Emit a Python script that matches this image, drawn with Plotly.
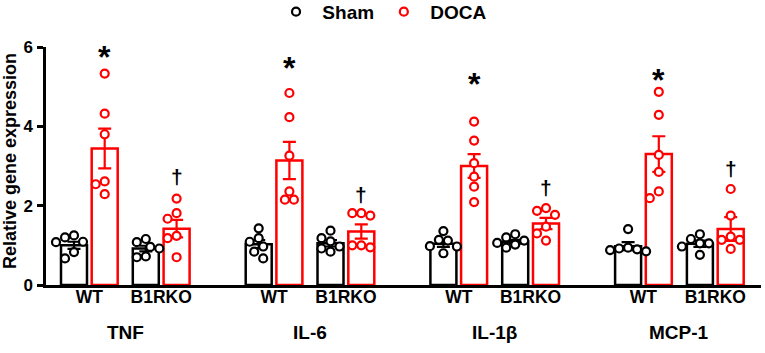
import plotly.graph_objects as go

# ---------------- data ----------------
genes = ["TNF", "IL-6", "IL-1β", "MCP-1"]
genotypes = ["WT", "B1RKO"]

# bar means (Sham WT, DOCA WT, Sham B1RKO, DOCA B1RKO) per gene
sham_wt_mean = [1.00, 1.03, 1.04, 0.98]
doca_wt_mean = [3.44, 3.14, 3.00, 3.30]
sham_ko_mean = [0.92, 1.05, 1.09, 1.04]
doca_ko_mean = [1.42, 1.35, 1.55, 1.41]

sham_wt_sem = [0.09, 0.10, 0.08, 0.10]
doca_wt_sem = [0.50, 0.47, 0.30, 0.45]
sham_ko_sem = [0.07, 0.08, 0.05, 0.08]
doca_ko_sem = [0.22, 0.18, 0.14, 0.30]

# individual animals
sham_wt_pts = [
    [1.25, 1.20, 1.09, 1.08, 0.83, 0.67],
    [1.43, 1.18, 1.09, 0.97, 0.84, 0.67],
    [1.36, 1.14, 1.12, 0.98, 0.97, 0.80],
    [1.41, 0.94, 0.92, 0.90, 0.88, 0.85],
]
doca_wt_pts = [
    [5.33, 4.32, 3.80, 2.61, 2.54, 2.29],
    [4.84, 4.23, 3.26, 2.36, 2.15, 2.15],
    [4.12, 3.64, 3.07, 2.73, 2.48, 2.09],
    [4.87, 4.29, 3.28, 2.85, 2.36, 2.19],
]
sham_ko_pts = [
    [1.16, 1.08, 0.96, 0.92, 0.72, 0.70],
    [1.37, 1.18, 1.10, 0.97, 0.92, 0.84],
    [1.28, 1.20, 1.12, 1.06, 1.02, 0.94],
    [1.28, 1.16, 1.05, 1.05, 0.97, 0.76],
]
doca_ko_pts = [
    [2.18, 1.81, 1.67, 1.24, 1.18, 0.70],
    [1.81, 1.75, 1.81, 1.00, 0.95, 1.00],
    [1.94, 1.87, 1.77, 1.47, 1.30, 1.12],
    [2.42, 1.75, 1.22, 1.14, 1.14, 0.91],
]

# significance marks (heights)
star_y = [5.85, 5.56, 5.18, 5.26]
dagger_y = [2.76, 2.31, 2.48, 2.96]

# ---------------- layout constants ----------------
FONT = "Arial, Liberation Sans, sans-serif"
BLACK = "#000000"
RED = "#FF0000"
GROUP0 = 28.0
GROUP_STEP = 184.7
OFFS = [0.0, 30.7, 71.8, 102.6]
BAR_W = 26.0
YPX = 39.6  # pixels per y unit


def pos(g, k):
    return GROUP0 + g * GROUP_STEP + OFFS[k]


def swarm(vals, center, diam=9.0, step=4.5):
    placed = []
    xs = [None] * len(vals)
    order = sorted(range(len(vals)), key=lambda i: -vals[i])
    cands = [0.0]
    for n in range(1, 8):
        cands += [-n * step, n * step]
    for i in order:
        y = vals[i] * YPX
        chosen = cands[-1]
        for dx in cands:
            if all((dx - px) ** 2 + (y - py) ** 2 >= diam ** 2 for px, py in placed):
                chosen = dx
                break
        placed.append((chosen, y))
        xs[i] = center + chosen
    return xs


fig = go.Figure()

sham_x, sham_y, sham_e = [], [], []
doca_x, doca_y, doca_e = [], [], []
for g in range(len(genes)):
    sham_x += [pos(g, 0), pos(g, 2)]
    sham_y += [sham_wt_mean[g], sham_ko_mean[g]]
    sham_e += [sham_wt_sem[g], sham_ko_sem[g]]
    doca_x += [pos(g, 1), pos(g, 3)]
    doca_y += [doca_wt_mean[g], doca_ko_mean[g]]
    doca_e += [doca_wt_sem[g], doca_ko_sem[g]]

for xs, ys, es, col in [(sham_x, sham_y, sham_e, BLACK), (doca_x, doca_y, doca_e, RED)]:
    fig.add_trace(go.Bar(
        x=xs, y=ys, width=BAR_W, showlegend=False, hoverinfo="skip",
        marker=dict(color="white", line=dict(color=col, width=2.5)),
        error_y=dict(type="data", array=es, visible=True, color=col, thickness=2.2, width=6.5),
    ))

spx, spy, dpx, dpy = [], [], [], []
for g in range(len(genes)):
    spx += swarm(sham_wt_pts[g], pos(g, 0)) + swarm(sham_ko_pts[g], pos(g, 2))
    spy += sham_wt_pts[g] + sham_ko_pts[g]
    dpx += swarm(doca_wt_pts[g], pos(g, 1)) + swarm(doca_ko_pts[g], pos(g, 3))
    dpy += doca_wt_pts[g] + doca_ko_pts[g]

fig.add_trace(go.Scatter(x=spx, y=spy, mode="markers", name="\u2004Sham\u2005",
                         marker=dict(symbol="circle", size=8, color="white",
                                     line=dict(color=BLACK, width=2.2))))
fig.add_trace(go.Scatter(x=dpx, y=dpy, mode="markers", name="\u2004DOCA",
                         marker=dict(symbol="circle", size=8, color="white",
                                     line=dict(color=RED, width=2.2))))

annotations = []
tickvals, ticktext = [], []
for g, gene in enumerate(genes):
    tickvals += [(pos(g, 0) + pos(g, 1)) / 2, (pos(g, 2) + pos(g, 3)) / 2]
    ticktext += genotypes
    annotations.append(dict(x=(pos(g, 0) + pos(g, 3)) / 2, y=-0.2, xref="x", yref="paper",
                            text=gene, showarrow=False, yanchor="middle",
                            font=dict(family=FONT, size=19, color=BLACK, weight="bold")))
    annotations.append(dict(x=pos(g, 1), y=star_y[g], xref="x", yref="y", text="*",
                            showarrow=False, yanchor="middle", yshift=-4,
                            font=dict(family=FONT, size=32, color=BLACK, weight="bold")))
    annotations.append(dict(x=pos(g, 3), y=dagger_y[g], xref="x", yref="y", text="†",
                            showarrow=False, yanchor="middle", yshift=-1,
                            font=dict(family=FONT, size=21, color=BLACK, weight="bold")))

annotations.append(dict(x=-0.0503, y=0.521, xref="paper", yref="paper",
                        text="Relative gene expression", textangle=-90, showarrow=False,
                        xanchor="center", yanchor="middle",
                        font=dict(family=FONT, size=18, color=BLACK, weight="bold")))

fig.update_layout(
    width=765, height=353,
    margin=dict(l=46, r=4, t=47, b=68, autoexpand=False),
    plot_bgcolor="white", paper_bgcolor="white",
    barmode="overlay",
    font=dict(family=FONT, color=BLACK),
    xaxis=dict(range=[0, 715], showgrid=False, zeroline=False, showline=True,
               linecolor=BLACK, linewidth=2.5, ticks="", tickvals=tickvals, ticktext=ticktext,
               ticklabelstandoff=-6,
               tickfont=dict(family=FONT, size=17.5, color=BLACK, weight="bold")),
    yaxis=dict(range=[0, 6], showgrid=False, zeroline=False, showline=True,
               linecolor=BLACK, linewidth=2.5, ticks="outside", ticklen=6, tickwidth=2.5,
               tickcolor=BLACK, tickvals=[0, 2, 4, 6], ticklabelstandoff=1,
               tickfont=dict(family=FONT, size=17, color=BLACK, weight="bold")),
    legend=dict(orientation="h", x=0.3217, xanchor="left", y=1.148, yanchor="middle",
                font=dict(family=FONT, size=19, color=BLACK, weight="bold"),
                bgcolor="rgba(0,0,0,0)"),
    annotations=annotations,
    showlegend=True,
)

fig.write_html("out.html", config={"displayModeBar": False},
               post_script="document.body.style.margin='0';")
